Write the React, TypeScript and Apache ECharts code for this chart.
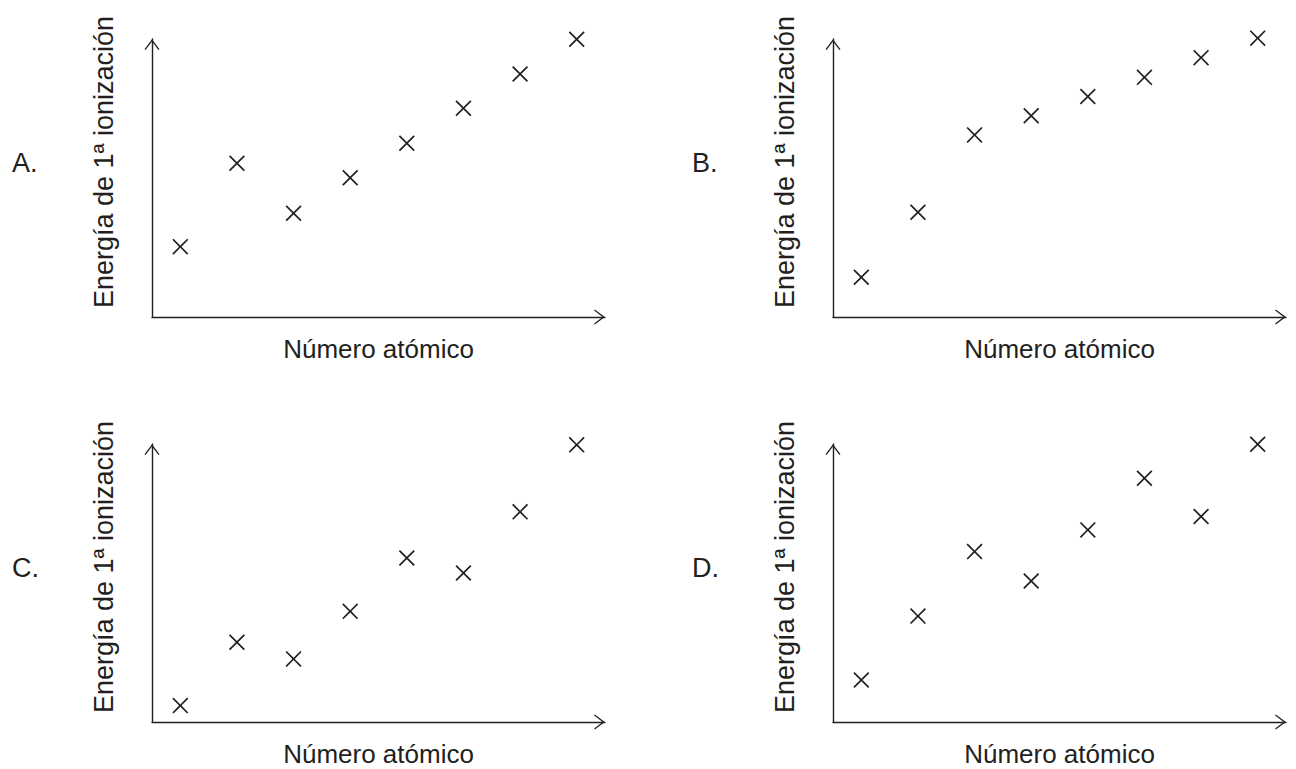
import React, { useEffect, useRef } from "react";
import * as echarts from "echarts";

const atomicNumbers = ["Z1", "Z2", "Z3", "Z4", "Z5", "Z6", "Z7", "Z8"];
const panelLabels = ["A.", "B.", "C.", "D."];
const xTitle = "Número atómico";
const yTitle = "Energía de 1ª ionización";

const energyA = [25.3, 55.3, 37.3, 50.1, 62.5, 75.1, 87.4, 99.9];
const energyB = [14.3, 37.7, 65.5, 72.4, 79.3, 86.2, 93.3, 100.3];
const energyC = [5.9, 28.7, 22.7, 39.8, 59.0, 53.6, 75.6, 99.7];
const energyD = [15.1, 38.1, 61.3, 50.7, 69.1, 87.7, 73.9, 99.9];

const panelData = [energyA, energyB, energyC, energyD];

const INK = "#231f20";
const FONT = "'Liberation Sans', Arial, Helvetica, sans-serif";
const CROSS = "path://M1.5,0 L10,8.5 L18.5,0 L20,1.5 L11.5,10 L20,18.5 L18.5,20 L10,11.5 L1.5,20 L0,18.5 L8.5,10 L0,1.5 Z";
const CHEVRON = "path://M15,0 L30,20 L27.9,21.5 L15,4.5 L2.1,21.5 L0,20 Z";

const grids = [
  { left: 152, top: 39, width: 453, height: 278 },
  { left: 833, top: 39, width: 453, height: 278 },
  { left: 152, top: 444, width: 453, height: 278 },
  { left: 833, top: 444, width: 453, height: 278 },
];

export default function App() {
  const ref = useRef<HTMLDivElement>(null);
  useEffect(() => {
    if (!ref.current) return;
    const chart = echarts.init(ref.current, undefined, { renderer: "svg" });
    const axisLine = {
      show: true,
      lineStyle: { color: INK, width: 1.4 },
      symbol: ["none", CHEVRON],
      symbolSize: [15, 11],
      symbolOffset: [0, -5.5],
    };
    const graphics: any[] = [];
    grids.forEach((g, i) => {
      const cx = g.left + g.width / 2;
      graphics.push({
        type: "text",
        left: i % 2 === 0 ? 12 : 692,
        top: g.top + 124 - 14,
        style: { text: panelLabels[i], font: `27px ${FONT}`, fill: INK },
      });
      graphics.push({
        type: "text",
        x: g.left - 48,
        y: g.top + 123,
        rotation: Math.PI / 2,
        style: {
          text: yTitle,
          font: `27px ${FONT}`,
          fill: INK,
          align: "center",
          verticalAlign: "middle",
        },
      });
      graphics.push({
        type: "text",
        x: cx,
        y: g.top + g.height + 32,
        style: {
          text: xTitle,
          font: `26px ${FONT}`,
          fill: INK,
          align: "center",
          verticalAlign: "middle",
        },
      });
    });
    chart.setOption({
      animation: false,
      backgroundColor: "#ffffff",
      grid: grids.map((g) => ({ ...g, containLabel: false })),
      xAxis: grids.map((_, i) => ({
        type: "category",
        gridIndex: i,
        data: atomicNumbers,
        boundaryGap: true,
        axisLine,
        axisTick: { show: false },
        axisLabel: { show: false },
        splitLine: { show: false },
      })),
      yAxis: grids.map((_, i) => ({
        type: "value",
        gridIndex: i,
        min: 0,
        max: 100,
        axisLine,
        axisTick: { show: false },
        axisLabel: { show: false },
        splitLine: { show: false },
      })),
      series: panelData.map((d, i) => ({
        type: "scatter",
        name: panelLabels[i],
        xAxisIndex: i,
        yAxisIndex: i,
        data: d,
        symbol: CROSS,
        symbolSize: 16,
        clip: false,
        itemStyle: { color: INK, opacity: 1 },
      })),
      graphic: graphics,
    });
    return () => chart.dispose();
  }, []);
  return (
    <div
      ref={ref}
      style={{ position: "fixed", left: 0, top: 0, width: 1296, height: 769, background: "#fff" }}
    />
  );
}
